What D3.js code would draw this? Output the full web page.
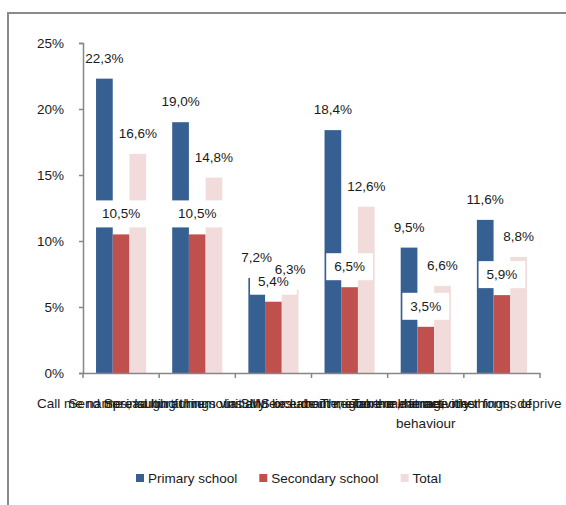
<!DOCTYPE html>
<html>
<head>
<meta charset="utf-8">
<script src="https://cdn.jsdelivr.net/npm/d3@7"></script>
<style>
  html, body { margin: 0; padding: 0; background: #fff; }
  svg { display: block; }
  text { font-family: "Liberation Sans", Arial, sans-serif; fill: #1a1a1a; }
</style>
</head>
<body>
<svg id="chart" width="566" height="505"></svg>
<script>
const categories = [
  "Call me names, laugh at me",
  "Send me insulting things via SMS or e-mail",
  "Spread hurtful rumours and lies about me on the Internet",
  "Initially exclude me, ignore me in activities",
  "Threaten me, hit me, other forms of\nbehaviour",
  "Take or damage my things, deprive me of property"
];
const seriesNames = ["Primary school", "Secondary school", "Total"];
const primary = [22.3, 19.0, 7.2, 18.4, 9.5, 11.6];
const secondary = [10.5, 10.5, 5.4, 6.5, 3.5, 5.9];
const total = [16.6, 14.8, 6.3, 12.6, 6.6, 8.8];
const yTicks = [0, 5, 10, 15, 20, 25];
const colors = ["#376092", "#C0504D", "#F2DCDB"];

const seriesValues = [primary, secondary, total];
const svg = d3.select("#chart");
const fontSize = 13.5;

// frame (left and top edges of the chart area)
svg.append("path")
  .attr("d", "M8,505 L8,13 L566,13")
  .attr("fill", "none")
  .attr("stroke", "#8a8a8a")
  .attr("stroke-width", 2);

const x0 = d3.scaleBand().domain(categories).range([83, 540]).padding(0);
const x1 = d3.scaleBand().domain(seriesNames).range([0, x0.bandwidth()])
  .paddingInner(0).paddingOuter(0.78);
const y = d3.scaleLinear().domain([0, 25]).range([373, 43]);

const fmt = v => v.toFixed(1).replace(".", ",") + "%";

// Y axis
const yAxis = svg.append("g").attr("transform", `translate(${x0.range()[0]},0)`)
  .call(d3.axisLeft(y).tickValues(yTicks).tickSize(4).tickPadding(15)
    .tickFormat(d => d + "%"));
yAxis.select(".domain").attr("stroke", "#868686").attr("stroke-width", 1.5);
yAxis.selectAll(".tick line").attr("stroke", "#868686").attr("stroke-width", 1.5);
yAxis.selectAll(".tick text").style("font-size", fontSize + "px")
  .style("font-family", '"Liberation Sans", Arial, sans-serif').attr("fill", "#1a1a1a");

// Bars
seriesNames.forEach((s, si) => {
  svg.append("g").selectAll("rect")
    .data(categories.map((c, i) => ({c, v: seriesValues[si][i]})))
    .join("rect")
    .attr("x", d => x0(d.c) + x1(s))
    .attr("width", x1.bandwidth())
    .attr("y", d => y(d.v))
    .attr("height", d => y(0) - y(d.v))
    .attr("fill", colors[si]);
});

// X axis
const xAxis = svg.append("g").attr("transform", `translate(0,${y(0)})`)
  .call(d3.axisBottom(x0).tickSize(0).tickFormat(""));
xAxis.select(".domain").attr("stroke", "#868686").attr("stroke-width", 1.5);
const boundaries = categories.map(c => x0(c)).concat([x0.range()[1]]);
svg.append("g").selectAll("line").data(boundaries).join("line")
  .attr("x1", d => d).attr("x2", d => d)
  .attr("y1", y(0)).attr("y2", y(0) + 5)
  .attr("stroke", "#868686").attr("stroke-width", 1.5);

// category labels (overlapping, as in the original)
const catG = svg.append("g");
categories.forEach(c => {
  const t = catG.append("text")
    .attr("x", x0(c) + x0.bandwidth() / 2)
    .attr("y", 408)
    .attr("text-anchor", "middle")
    .style("font-size", fontSize + "px");
  c.split("\n").forEach((line, li) => {
    t.append("tspan").attr("x", x0(c) + x0.bandwidth() / 2)
      .attr("dy", li === 0 ? 0 : 20).text(line);
  });
});

// Data labels: primary, secondary (boxed), total
seriesNames.forEach((s, si) => {
  const g = svg.append("g");
  categories.forEach((c, i) => {
    const v = seriesValues[si][i];
    const cx = x0(c) + x1(s) + x1.bandwidth() / 2;
    const cy = y(v) - 20.5;
    const t = g.append("text")
      .attr("x", cx).attr("y", cy)
      .attr("text-anchor", "middle")
      .attr("dominant-baseline", "central")
      .style("font-size", fontSize + "px")
      .text(fmt(v));
    if (si === 1) {
      const w = t.node().getComputedTextLength() + 16;
      g.insert("rect", () => t.node())
        .attr("x", cx - w / 2).attr("y", cy - 13.5)
        .attr("width", w).attr("height", 27)
        .attr("fill", "#ffffff");
    }
  });
});

// Legend
const legend = svg.append("g");
let lx = 136;
const ly = 478;
seriesNames.forEach((s, si) => {
  legend.append("rect").attr("x", lx).attr("y", ly - 4).attr("width", 8).attr("height", 8)
    .attr("fill", colors[si]);
  const t = legend.append("text").attr("x", lx + 12).attr("y", ly)
    .attr("dominant-baseline", "central")
    .style("font-size", fontSize + "px").text(s);
  lx += 12 + t.node().getComputedTextLength() + 22;
});
</script>
</body>
</html>
